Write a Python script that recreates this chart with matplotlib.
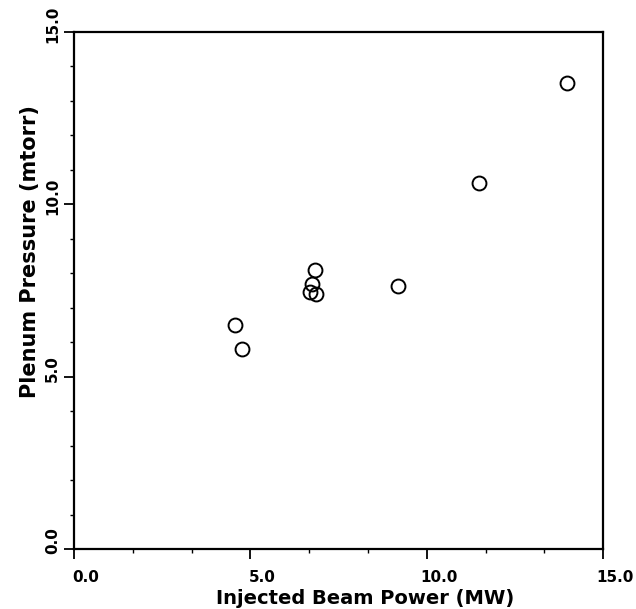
import matplotlib
matplotlib.use("Agg")
import matplotlib.pyplot as plt
import matplotlib.transforms as mtransforms
from matplotlib.ticker import MultipleLocator

# beam power (MW) vs plenum pressure (mtorr)
beam_power = [4.55, 4.77, 6.82, 6.75, 6.70, 6.85, 9.18, 11.49, 13.97]
plenum_pressure = [6.50, 5.80, 8.10, 7.70, 7.47, 7.40, 7.62, 10.61, 13.52]

x_ticks = [0.0, 5.0, 10.0, 15.0]
y_ticks = [0.0, 5.0, 10.0, 15.0]
x_label = "Injected Beam Power (MW)"
y_label = "Plenum Pressure (mtorr)"

fig = plt.figure(figsize=(6.36, 6.09), dpi=100)
ax = fig.add_axes([0.1165, 0.0985, 0.832, 0.849])

ax.plot(beam_power, plenum_pressure, linestyle="none", marker="o",
        markersize=10, markerfacecolor="none", markeredgecolor="black",
        markeredgewidth=1.4)

ax.set_xlim(0, 15)
ax.set_ylim(0, 15)
ax.set_xticks(x_ticks)
ax.set_yticks(y_ticks)
ax.set_xticklabels([f"{v:.1f}" for v in x_ticks], fontsize=11, fontweight="bold")
ax.set_yticklabels([f"{v:.1f}" for v in y_ticks], fontsize=11, fontweight="bold",
                   rotation=90, va="center")
ax.xaxis.set_minor_locator(MultipleLocator(5 / 3))
ax.yaxis.set_minor_locator(MultipleLocator(1.0))

for s in ax.spines.values():
    s.set_linewidth(1.6)
ax.tick_params(which="major", direction="out", length=7, width=1.3)
ax.tick_params(axis="x", which="major", pad=8)
ax.tick_params(axis="y", which="major", pad=3)
ax.tick_params(which="minor", direction="out", length=3, width=1.0)

# labels sit a bit off the ticks in the original
dx = mtransforms.ScaledTranslation(12 / 100, 0, fig.dpi_scale_trans)
for lbl in ax.get_xticklabels():
    lbl.set_transform(lbl.get_transform() + dx)
dy = mtransforms.ScaledTranslation(0, 8 / 100, fig.dpi_scale_trans)
for lbl in ax.get_yticklabels():
    lbl.set_transform(lbl.get_transform() + dy)

fig.text(365 / 636, 1 - 598 / 609, x_label, fontsize=14, fontweight="bold",
         ha="center", va="center")
fig.text(30 / 636, 1 - 252 / 609, y_label, fontsize=15, fontweight="bold",
         ha="center", va="center", rotation=90)

fig.savefig("out.png", dpi=100)
